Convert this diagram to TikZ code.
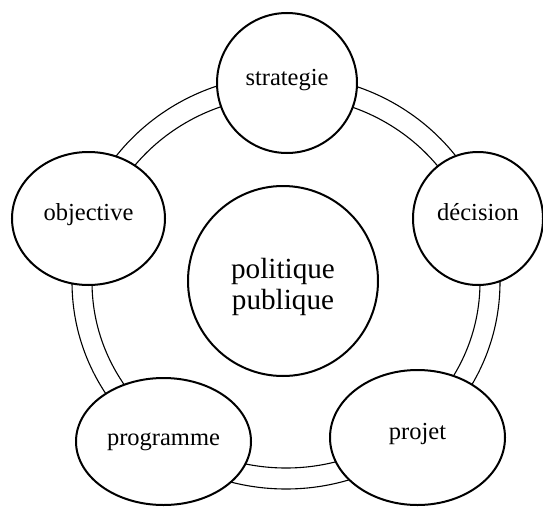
\documentclass[tikz,border=0pt]{standalone}
\usepackage{fontspec}
\setmainfont{Liberation Serif}
\usetikzlibrary{shapes.geometric}

\tikzset{
  stage/.style={ellipse, draw, line width=2pt, fill=white, inner sep=0pt,
    font=\fontsize{24.5}{29}\selectfont, text height=0.7em, text depth=0.25em},
  hub/.style={circle, draw, line width=2pt, fill=white, inner sep=0pt},
  hubtext/.style={align=center, font=\fontsize{29.2}{31}\selectfont},
  ring/.style={draw, line width=1.1pt}
}

\begin{document}
\begin{tikzpicture}[x=1pt, y=-1pt]
  \useasboundingbox (0,0) rectangle (543,506);

  % double ring linking the five stages
  \draw[ring] (286,282) ellipse [x radius=194, y radius=186];
  \draw[ring] (286,282) ellipse [x radius=214, y radius=207];

  % central policy circle
  \node[hub, minimum size=190pt] (pp) at (283,281) {};
  \node[hubtext, yshift=-6pt] (pptext) at (pp.center) {politique\\publique};

  % stages around the ring
  \node[stage, minimum width=140pt, minimum height=140pt] (strat) at (287,83) {strategie};
  \node[stage, minimum width=130pt, minimum height=133pt] (dec) at (478,218.5) {décision};
  \node[stage, minimum width=175pt, minimum height=135pt] (proj) at (417.5,437.5) {projet};
  \node[stage, minimum width=175pt, minimum height=127pt, text height=0.95em] (prog) at (163.5,441.5) {programme};
  \node[stage, minimum width=153pt, minimum height=133pt] (obj) at (88.5,218.5) {objective};
\end{tikzpicture}
\end{document}
